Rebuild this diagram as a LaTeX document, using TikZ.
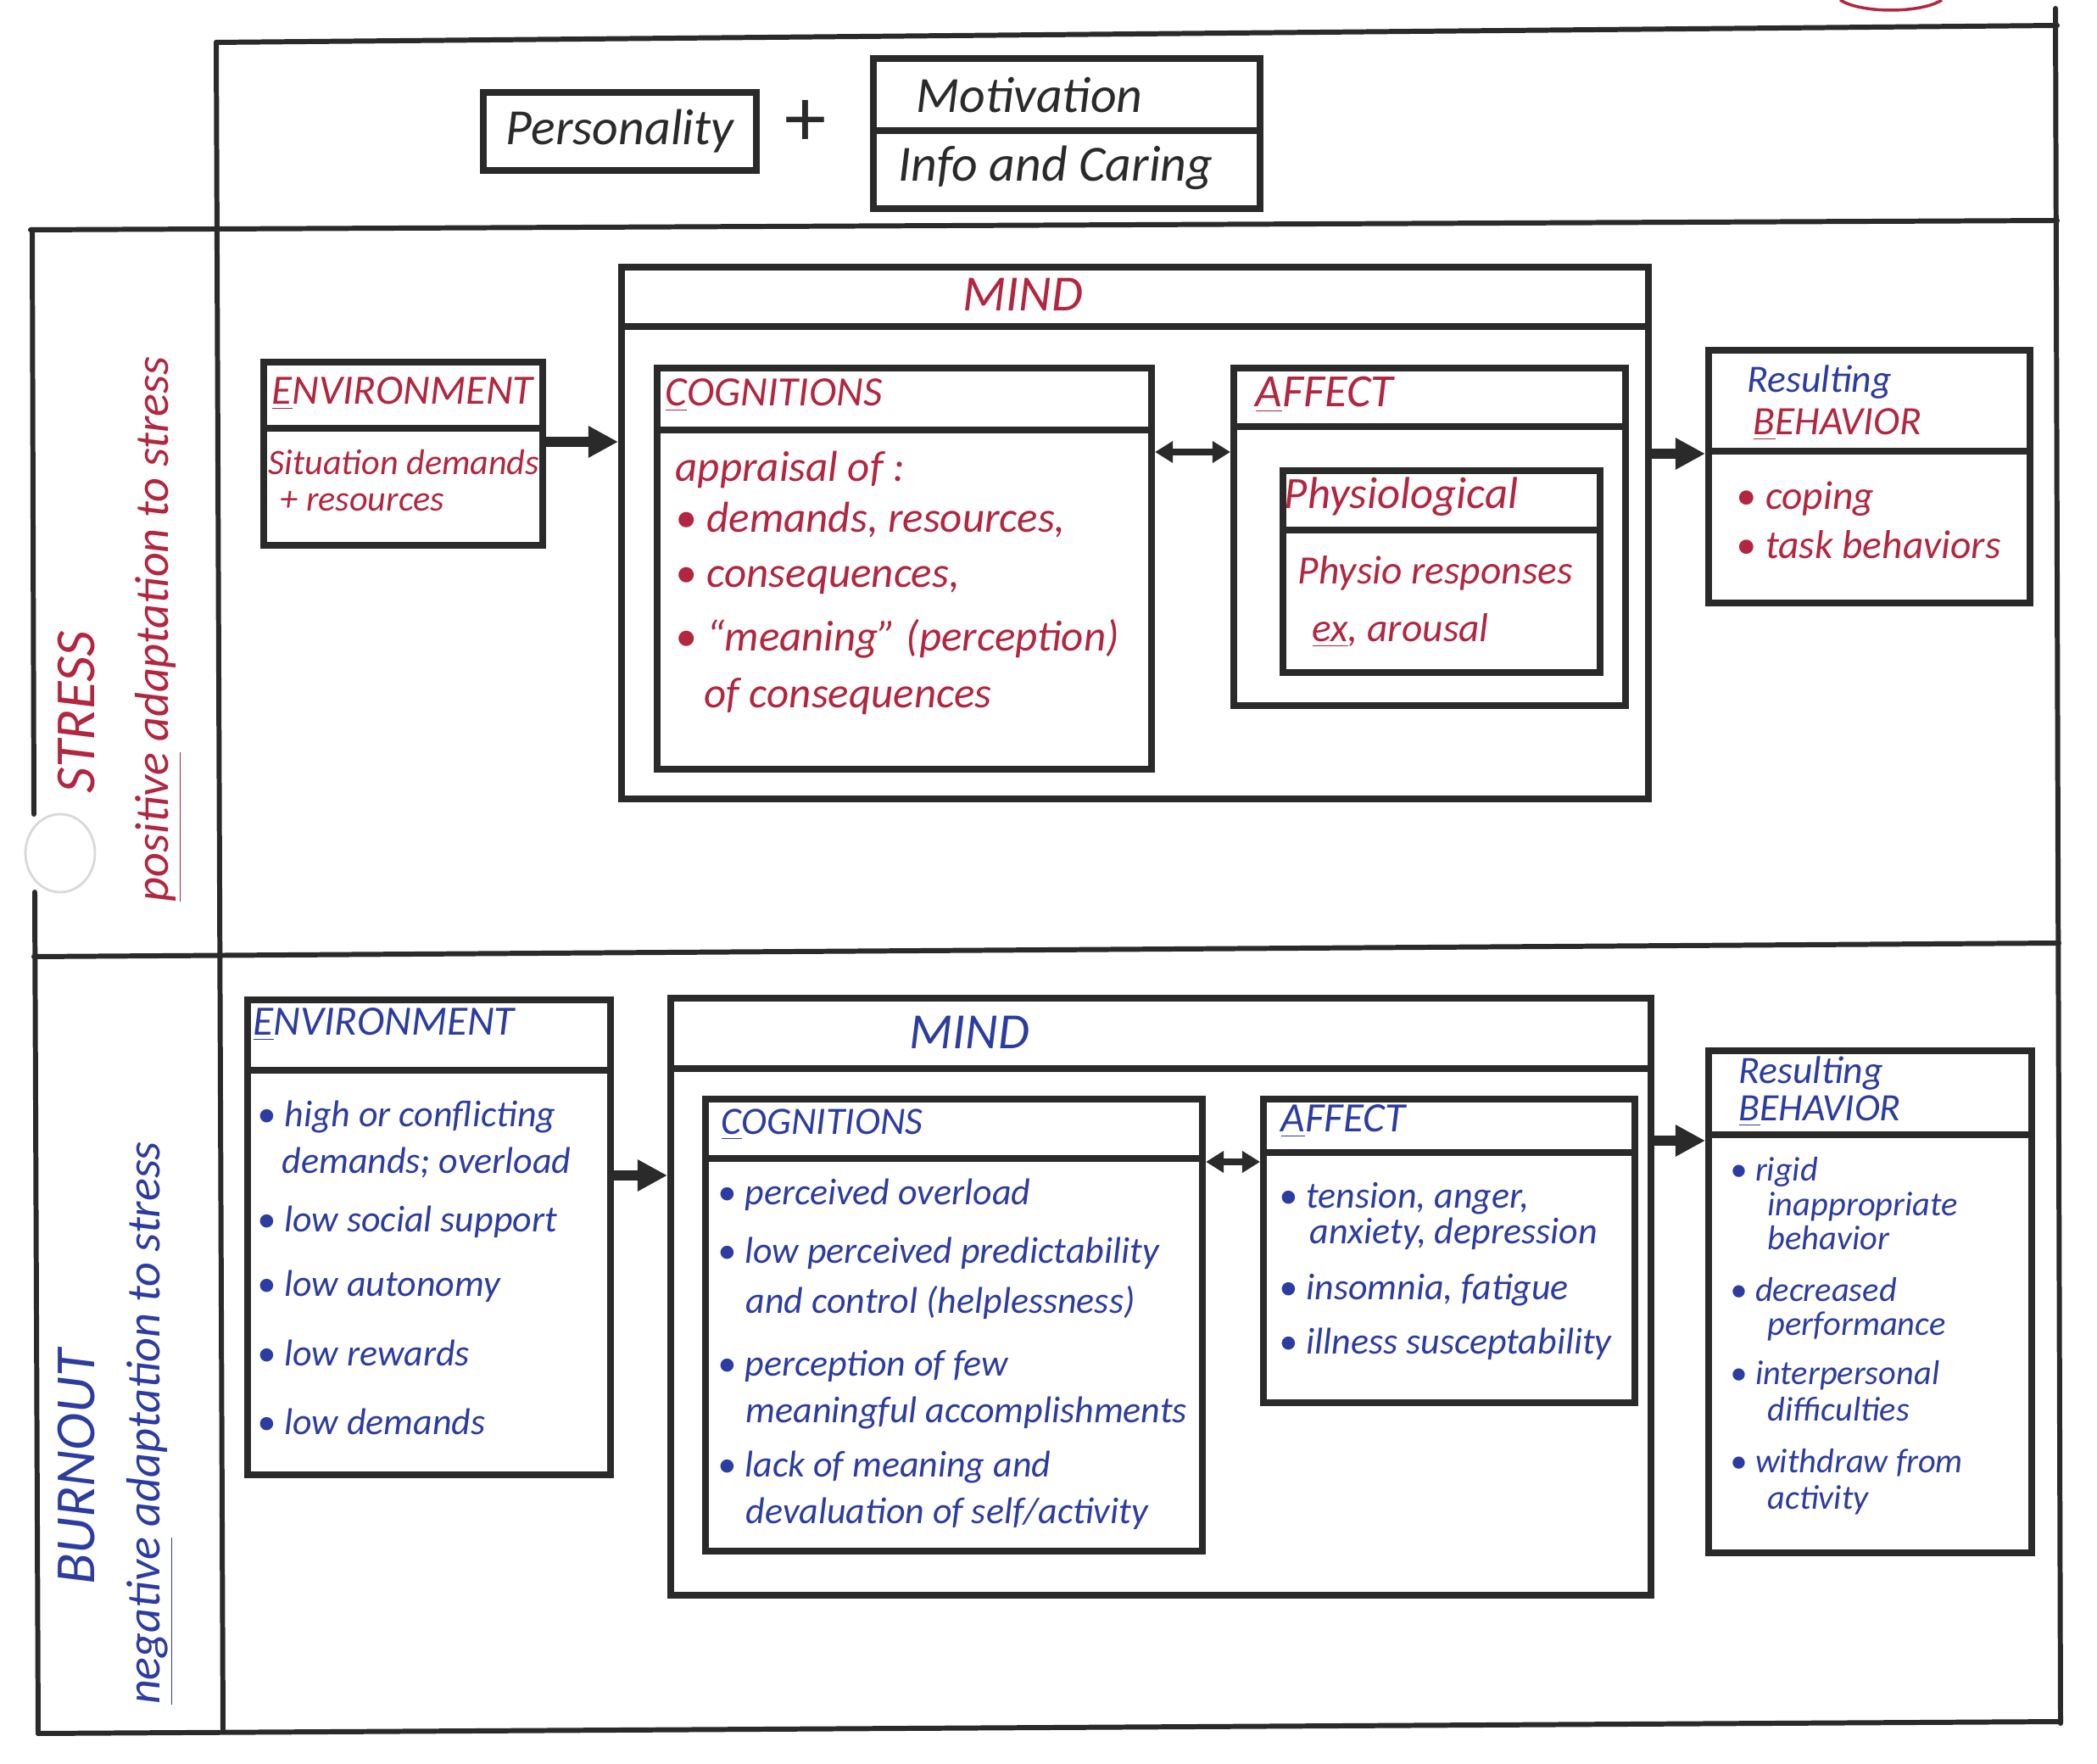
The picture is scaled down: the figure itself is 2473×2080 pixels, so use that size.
\documentclass[tikz,border=0pt]{standalone}
\usepackage{fontspec}
\setmainfont{Carlito}
\usetikzlibrary{arrows.meta}
\definecolor{ink}{HTML}{2A2A2A}
\definecolor{pred}{HTML}{B2263F}
\definecolor{pblue}{HTML}{2C3CA0}
\newcommand{\mybul}{\textbullet\ }
\begin{document}
\begin{tikzpicture}[x=0.01cm,y=-0.01cm,
  frame/.style={draw=ink,line width=1.7pt,line cap=round},
  box/.style={draw=ink,line width=2.3pt,rectangle,inner sep=0pt,anchor=north west},
  sep/.style={draw=ink,line width=2.3pt},
  conn/.style={draw=ink,line width=3.4pt,-{Triangle[length=10pt,width=10pt]}},
  dconn/.style={draw=ink,line width=2pt,{Triangle[length=6pt,width=7pt]}-{Triangle[length=6pt,width=7pt]}},
  sz/.style 2 args={minimum width=#1*0.01cm,minimum height=#2*0.01cm},
  rtxt/.style={text=pred,font=\itshape\fontsize{14.5}{17}\selectfont,inner sep=0pt,anchor=mid west},
  btxt/.style={text=pblue,font=\itshape\fontsize{12.5}{15}\selectfont,inner sep=0pt,anchor=mid west},
  ktxt/.style={text=ink,font=\itshape\fontsize{17}{20}\selectfont,inner sep=0pt},
  ttl/.style={font=\itshape\fontsize{14}{17}\selectfont},
  big/.style={font=\itshape\fontsize{17}{20}\selectfont},
  side/.style={inner sep=0pt,rotate=90,font=\itshape\fontsize{16}{19}\selectfont},
  bsm/.style={font=\itshape\fontsize{11.5}{14}\selectfont},
]
\useasboundingbox (0,0) rectangle (2473,2080);

% ---------- frame ----------
\draw[frame] (255,50) -- (2426,30);
\draw[frame] (2424,10) -- (2430,2032);
\draw[frame] (36,271) -- (2426,260);
\draw[frame] (255,50) -- (263,2042);
\draw[frame] (38,271) -- (40,960);
\draw[frame] (41,1052) -- (45,2044);
\draw[frame] (40,1128) -- (2428,1112);
\draw[frame] (45,2044) -- (2430,2030);
\draw[gray!30,line width=0.8pt] (71,1006) ellipse [x radius=41,y radius=46];
\draw[pred,line width=1pt] (2170,0) .. controls (2195,16) and (2265,16) .. (2290,0);

% ---------- top ----------
\node[box,sz={322}{92}] (pers) at (566,105) {};
\node[box,sz={456}{177}] (motiv) at (1026,65) {};
\draw[sep] (motiv.west |- 0,154) -- (motiv.east |- 0,154);
\node[ktxt] (perstxt) at (pers.center) {Personality};
\node[ktxt,font=\fontsize{28}{28}\selectfont] (plus) at (950,145) {+};
\node[ktxt] (motivtxt) at (1214,112) {Motivation};
\node[ktxt] (infotxt) at (1245,198) {Info and Caring};

% ---------- STRESS ----------
\node[side,text=pred,font=\itshape\fontsize{19}{22}\selectfont] (stress) at (90,840) {STRESS};
\node[side,text=pred] (possub) at (187,742) {\underline{positive} adaptation to stress};

\node[box,sz={329}{216}] (envS) at (307,423) {};
\draw[sep] (envS.west |- 0,505) -- (envS.east |- 0,505);
\node[rtxt,ttl] (envStt) at (320,468) {\underline{E}NVIRONMENT};
\node[rtxt,font=\itshape\fontsize{12}{14}\selectfont] (envS1) at (316,551) {Situation demands};
\node[rtxt,font=\itshape\fontsize{12}{14}\selectfont] (envS2) at (330,594) {+ resources};

\node[box,sz={1211}{627}] (mindS) at (729,311) {};
\draw[sep] (mindS.west |- 0,385) -- (mindS.east |- 0,385);
\node[rtxt,big,anchor=center] (mindStt) at (1206,347) {MIND};

\node[box,sz={583}{473}] (cogS) at (771,430) {};
\draw[sep] (cogS.west |- 0,507) -- (cogS.east |- 0,507);
\node[rtxt,ttl] (cogStt) at (784,470) {\underline{C}OGNITIONS};
\node[rtxt] (cogS1) at (796,559) {appraisal of :};
\node[rtxt] (cogS2) at (796,619) {\mybul demands, resources,};
\node[rtxt] (cogS3) at (796,684) {\mybul consequences,};
\node[rtxt] (cogS4) at (796,759) {\mybul “meaning” (perception)};
\node[rtxt] (cogS5) at (830,826) {of consequences};

\node[box,sz={462}{398}] (affS) at (1451,430) {};
\draw[sep] (affS.west |- 0,503) -- (affS.east |- 0,503);
\node[rtxt,font=\itshape\fontsize{15.5}{18}\selectfont] (affStt) at (1480,471) {\underline{A}FFECT};
\node[box,sz={374}{238}] (physS) at (1509,551) {};
\draw[sep] (physS.west |- 0,625) -- (physS.east |- 0,625);
\node[rtxt,font=\itshape\fontsize{15}{18}\selectfont] (physStt) at (1514,591) {Physiological};
\node[rtxt,font=\itshape\fontsize{13.5}{16}\selectfont] (physS1) at (1530,680) {Physio responses};
\node[rtxt,font=\itshape\fontsize{13.5}{16}\selectfont] (physS2) at (1547,748) {\underline{ex}, arousal};

\node[box,sz={379}{298}] (behS) at (2011,409) {};
\draw[sep] (behS.west |- 0,532) -- (behS.east |- 0,532);
\node[btxt,font=\itshape\fontsize{13}{16}\selectfont] (behStt1) at (2060,454) {Resulting};
\node[rtxt,font=\itshape\fontsize{13.5}{16}\selectfont] (behStt2) at (2067,504) {\underline{B}EHAVIOR};
\node[rtxt,font=\itshape\fontsize{13.5}{16}\selectfont] (behS1) at (2047,592) {\mybul coping};
\node[rtxt,font=\itshape\fontsize{13.5}{16}\selectfont] (behS2) at (2047,650) {\mybul task behaviors};

\draw[conn] (envS.east |- 0,521) -- (mindS.west |- 0,521);
\draw[dconn] (cogS.east |- 0,533) -- (affS.west |- 0,533);
\draw[conn] (mindS.east |- 0,535) -- (behS.west |- 0,535);

% ---------- BURNOUT ----------
\node[side,text=pblue,font=\itshape\fontsize{19}{22}\selectfont] (burn) at (90,1730) {BURNOUT};
\node[side,text=pblue] (negsub) at (177,1678) {\underline{negative} adaptation to stress};

\node[box,sz={428}{560}] (envB) at (288,1175) {};
\draw[sep] (envB.west |- 0,1262) -- (envB.east |- 0,1262);
\node[btxt,ttl] (envBtt) at (298,1212) {\underline{E}NVIRONMENT};
\node[btxt] (envB1) at (303,1320) {\mybul high or conflicting};
\node[btxt] (envB2) at (332,1375) {demands; overload};
\node[btxt] (envB3) at (303,1444) {\mybul low social support};
\node[btxt] (envB4) at (303,1520) {\mybul low autonomy};
\node[btxt] (envB5) at (303,1602) {\mybul low rewards};
\node[btxt] (envB6) at (303,1683) {\mybul low demands};

\node[box,sz={1156}{704}] (mindB) at (787,1173) {};
\draw[sep] (mindB.west |- 0,1260) -- (mindB.east |- 0,1260);
\node[btxt,big,anchor=center] (mindBtt) at (1143,1217) {MIND};

\node[box,sz={586}{533}] (cogB) at (828,1292) {};
\draw[sep] (cogB.west |- 0,1366) -- (cogB.east |- 0,1366);
\node[btxt,font=\itshape\fontsize{13}{16}\selectfont] (cogBtt) at (850,1329) {\underline{C}OGNITIONS};
\node[btxt] (cogB1) at (846,1412) {\mybul perceived overload};
\node[btxt] (cogB2) at (846,1481) {\mybul low perceived predictability};
\node[btxt] (cogB3) at (879,1540) {and control (helplessness)};
\node[btxt] (cogB4) at (846,1614) {\mybul perception of few};
\node[btxt] (cogB5) at (879,1669) {meaningful accomplishments};
\node[btxt] (cogB6) at (846,1733) {\mybul lack of meaning and};
\node[btxt] (cogB7) at (879,1788) {devaluation of self/activity};

\node[box,sz={438}{358}] (affB) at (1486,1292) {};
\draw[sep] (affB.west |- 0,1359) -- (affB.east |- 0,1359);
\node[btxt,ttl] (affBtt) at (1510,1326) {\underline{A}FFECT};
\node[btxt] (affB1) at (1508,1416) {\mybul tension, anger,};
\node[btxt] (affB2) at (1544,1458) {anxiety, depression};
\node[btxt] (affB3) at (1508,1524) {\mybul insomnia, fatigue};
\node[btxt] (affB4) at (1508,1588) {\mybul illness susceptability};

\node[box,sz={381}{592}] (behB) at (2011,1235) {};
\draw[sep] (behB.west |- 0,1338) -- (behB.east |- 0,1338);
\node[btxt,font=\itshape\fontsize{13}{16}\selectfont] (behBtt1) at (2050,1269) {Resulting};
\node[btxt,font=\itshape\fontsize{13}{16}\selectfont] (behBtt2) at (2050,1313) {\underline{B}EHAVIOR};
\node[btxt,bsm] (behB1) at (2040,1384) {\mybul rigid};
\node[btxt,bsm] (behB2) at (2084,1425) {inappropriate};
\node[btxt,bsm] (behB3) at (2084,1465) {behavior};
\node[btxt,bsm] (behB4) at (2040,1526) {\mybul decreased};
\node[btxt,bsm] (behB5) at (2084,1566) {performance};
\node[btxt,bsm] (behB6) at (2040,1624) {\mybul interpersonal};
\node[btxt,bsm] (behB7) at (2084,1667) {difficulties};
\node[btxt,bsm] (behB8) at (2040,1728) {\mybul withdraw from};
\node[btxt,bsm] (behB9) at (2084,1771) {activity};

\draw[conn] (envB.east |- 0,1386) -- (mindB.west |- 0,1386);
\draw[dconn] (cogB.east |- 0,1370) -- (affB.west |- 0,1370);
\draw[conn] (mindB.east |- 0,1345) -- (behB.west |- 0,1345);
\end{tikzpicture}
\end{document}
